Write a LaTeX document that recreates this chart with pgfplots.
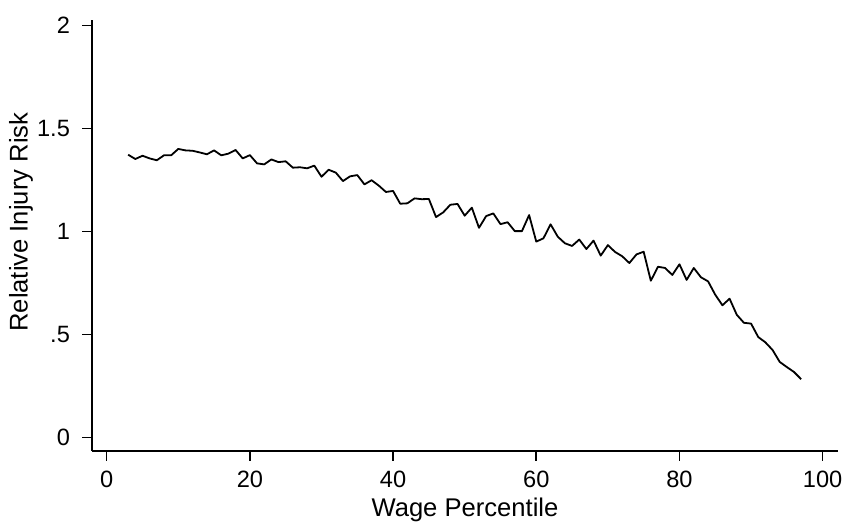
\documentclass[border=0pt]{standalone}
\usepackage{pgfplots}
\pgfplotsset{compat=1.18}
\usepackage{fontspec}
\setmainfont{Liberation Sans}
\begin{document}
\begin{tikzpicture}
\useasboundingbox (-46.15pt,-37pt) rectangle (375.35pt,225.5pt);
\begin{axis}[
  at={(0,0)}, anchor=south west,
  scale only axis,
  width=372.7pt, height=215.5pt,
  xmin=-2.01, xmax=102.1,
  ymin=-0.0665, ymax=2.026,
  axis lines*=left,
  axis line style={line width=0.8pt},
  tick align=outside,
  major tick length=5pt,
  tick style={line width=0.8pt, black},
  xtick={0,20,40,60,80,100},
  ytick={0,0.5,1,1.5,2},
  yticklabels={0,.5,1,1.5,2},
  /pgf/number format/assume math mode=true,
  tick label style={font=\fontsize{11.8}{14}\selectfont},
  yticklabel style={anchor=east, inner sep=0pt, xshift=-6pt},
  xticklabel style={anchor=north, inner sep=0pt, yshift=-5pt},
  label style={font=\fontsize{12.8}{15}\selectfont},
  xlabel={Wage Percentile},
  ylabel={Relative Injury Risk},
  xlabel style={at={(rel axis cs:0.5,0)}, anchor=center, yshift=-29.5pt},
  ylabel style={at={(rel axis cs:-0.0957,0.531)}, anchor=center},
  clip=false,
]
\addplot[black, line width=0.9pt, line join=round] coordinates {
(3,1.372) (4,1.351) (5,1.367) (6,1.354) (7,1.345) (8,1.369) (9,1.369) (10,1.400)
(11,1.393) (12,1.391) (13,1.383) (14,1.374) (15,1.393) (16,1.369) (17,1.377) (18,1.395)
(19,1.354) (20,1.370) (21,1.330) (22,1.325) (23,1.349) (24,1.336) (25,1.340) (26,1.309)
(27,1.311) (28,1.306) (29,1.319) (30,1.265) (31,1.299) (32,1.285) (33,1.244) (34,1.267)
(35,1.273) (36,1.228) (37,1.248) (38,1.222) (39,1.191) (40,1.196) (41,1.134) (42,1.136)
(43,1.160) (44,1.156) (45,1.157) (46,1.069) (47,1.092) (48,1.129) (49,1.133) (50,1.076)
(51,1.115) (52,1.017) (53,1.074) (54,1.087) (55,1.035) (56,1.044) (57,1.001) (58,1.001)
(59,1.079) (60,0.950) (61,0.966) (62,1.034) (63,0.974) (64,0.942) (65,0.929) (66,0.960)
(67,0.914) (68,0.955) (69,0.882) (70,0.933) (71,0.900) (72,0.879) (73,0.846) (74,0.888)
(75,0.901) (76,0.760) (77,0.828) (78,0.822) (79,0.788) (80,0.840) (81,0.764) (82,0.822)
(83,0.777) (84,0.757) (85,0.692) (86,0.641) (87,0.673) (88,0.595) (89,0.556) (90,0.552)
(91,0.487) (92,0.461) (93,0.424) (94,0.366) (95,0.341) (96,0.317) (97,0.282)
};
\end{axis}
\end{tikzpicture}
\end{document}
